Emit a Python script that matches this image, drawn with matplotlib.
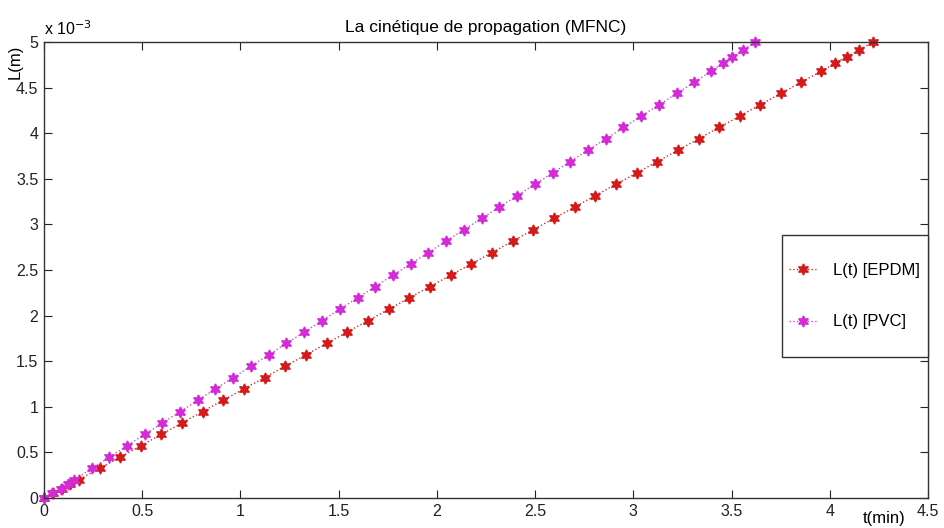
import numpy as np
import matplotlib
matplotlib.use("Agg")
from matplotlib import pyplot as plt
from matplotlib.ticker import FuncFormatter
from matplotlib.patches import Rectangle

plt.rcParams['font.family'] = ['Liberation Sans', 'DejaVu Sans']

# longueur de fissure (x 1e-3 m), meme grille pour les deux materiaux
L_mm = [0, 0.05, 0.10, 0.15, 0.20, 0.325, 0.449, 0.574, 0.698, 0.823,
        0.948, 1.072, 1.197, 1.321, 1.446, 1.571, 1.695, 1.820, 1.944, 2.069,
        2.194, 2.318, 2.443, 2.567, 2.692, 2.817, 2.941, 3.066, 3.190, 3.315,
        3.440, 3.564, 3.689, 3.813, 3.938, 4.063, 4.187, 4.312, 4.436, 4.561,
        4.68, 4.77, 4.84, 4.91, 5.00]

# temps (min) - EPDM
t_epdm = [0, 0.045, 0.090, 0.133, 0.176, 0.283, 0.389, 0.494, 0.598, 0.702,
          0.807, 0.912, 1.018, 1.123, 1.228, 1.334, 1.439, 1.543, 1.649, 1.754,
          1.860, 1.964, 2.070, 2.175, 2.281, 2.386, 2.490, 2.596, 2.701, 2.806,
          2.912, 3.017, 3.122, 3.227, 3.332, 3.437, 3.541, 3.646, 3.751, 3.856,
          3.958, 4.028, 4.088, 4.149, 4.220]

# temps (min) - PVC
t_pvc = [0, 0.042, 0.086, 0.124, 0.155, 0.243, 0.333, 0.423, 0.513, 0.603,
         0.693, 0.783, 0.873, 0.963, 1.054, 1.144, 1.234, 1.325, 1.415, 1.505,
         1.596, 1.686, 1.776, 1.866, 1.957, 2.047, 2.137, 2.228, 2.318, 2.408,
         2.499, 2.589, 2.679, 2.769, 2.860, 2.950, 3.040, 3.131, 3.222, 3.310,
         3.398, 3.455, 3.505, 3.558, 3.618]

L = np.array(L_mm) * 1e-3

fig = plt.figure(figsize=(9.44, 5.28), dpi=100)
ax = fig.add_axes([0.0466, 0.0568, 0.9364, 0.8636])

hexa = (6, 1, 0)
ax.plot(t_epdm, L, linestyle=':', color='#c83030', linewidth=1.0,
        marker=hexa, markersize=8, markerfacecolor='#d41a1a',
        markeredgecolor='#d41a1a', label='L(t) [EPDM]', clip_on=False)
ax.plot(t_pvc, L, linestyle=':', color='#c850c8', linewidth=1.0,
        marker=hexa, markersize=8, markerfacecolor='#d42ad8',
        markeredgecolor='#d42ad8', label='L(t) [PVC]', clip_on=False)

ax.set_xlim(0, 4.5)
ax.set_ylim(0, 5e-3)
ax.set_xticks(np.arange(0, 4.51, 0.5))
ax.set_yticks(np.arange(0, 5.01e-3, 0.5e-3))
ax.xaxis.set_major_formatter(FuncFormatter(lambda v, p: '%g' % round(v, 2)))
ax.yaxis.set_major_formatter(FuncFormatter(lambda v, p: '%g' % round(v * 1e3, 2)))
ax.tick_params(direction='in', top=True, right=True, length=6, width=0.8,
               labelsize=11.5, pad=4, colors='#222222')
for s in ax.spines.values():
    s.set_color('#333333')
    s.set_linewidth(1.0)

ax.set_title('La cinétique de propagation (MFNC)', fontsize=12.5, pad=7)
ax.text(0.0, 1.008, r'x 10$^{-3}$', transform=ax.transAxes, fontsize=11.5,
        ha='left', va='bottom')
fig.text(15 / 944, 1 - 62 / 528, 'L(m)', rotation=90, fontsize=12,
         ha='center', va='center')
fig.text(884 / 944, 1 - 519 / 528, 't(min)', fontsize=12,
         ha='center', va='center')

# cadre de la legende (style matlab)
ax.add_patch(Rectangle((0.835, 0.309), 0.165, 0.268, transform=ax.transAxes,
                       facecolor='white', edgecolor='#333333', linewidth=1.0,
                       zorder=4, clip_on=False))
leg = ax.legend(bbox_to_anchor=(0.843, 0.443), loc='center left',
                frameon=False, fontsize=12, labelspacing=2.2, borderpad=0,
                handlelength=1.6, handletextpad=1.0, borderaxespad=0)
leg.set_zorder(5)

fig.savefig('out.png', dpi=100)
